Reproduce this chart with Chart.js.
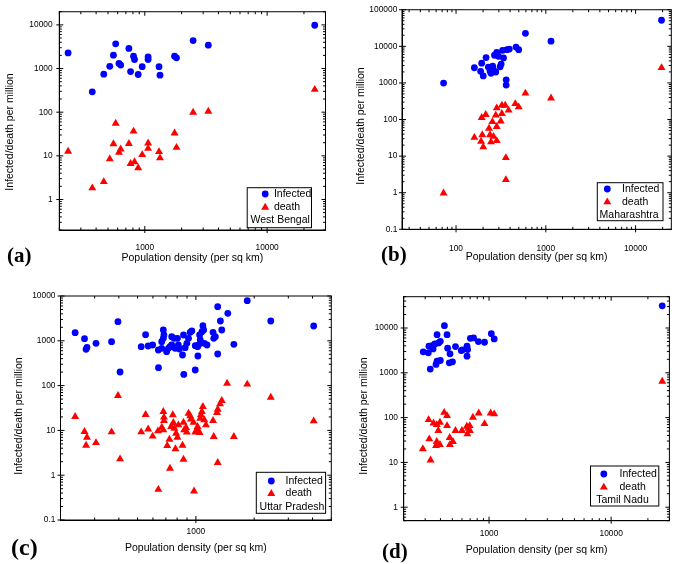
<!DOCTYPE html>
<html>
<head>
<meta charset="utf-8">
<title>Infected/death per million vs population density</title>
<script src="https://cdn.jsdelivr.net/npm/chart.js@4.4.1/dist/chart.umd.min.js"></script>
<style>
    body { margin: 0; background: #fff; font-family: "Liberation Sans", Arial, sans-serif; }
    #page { position: relative; width: 677px; height: 564px; overflow: hidden; }
    canvas { position: absolute; }
    .ytitle { position: absolute; font-size: 10.5px; white-space: nowrap; color: #000;
              transform: translate(-50%, -50%) rotate(-90deg); }
    .plabel { position: absolute; font-family: "Liberation Serif", "Times New Roman", serif;
              font-weight: bold; font-size: 21px; line-height: 21px; color: #000; }
</style>
</head>
<body>
<div id="page">
    <canvas id="chartA" width="338" height="270" style="left:0;top:0"></canvas>
    <canvas id="chartB" width="339" height="270" style="left:338px;top:0"></canvas>
    <canvas id="chartC" width="338" height="284" style="left:0;top:280px"></canvas>
    <canvas id="chartD" width="339" height="284" style="left:338px;top:280px"></canvas>

    <div class="ytitle" style="left:9px;top:132px">Infected/death per million</div>
    <div class="ytitle" style="left:360px;top:126px">Infected/death per million</div>
    <div class="ytitle" style="left:18px;top:416px">Infected/death per million</div>
    <div class="ytitle" style="left:363px;top:416px">Infected/death per million</div>

    <div class="plabel" style="left:7px;top:245px">(a)</div>
    <div class="plabel" style="left:381px;top:244px">(b)</div>
    <div class="plabel" style="left:11px;top:535px;font-size:24px;line-height:24px">(c)</div>
    <div class="plabel" style="left:382px;top:541px">(d)</div>
</div>

<script>
// (a) West Bengal
const wbDensity = [236, 372, 462, 517, 554, 578, 615, 635, 741, 765, 809, 824, 883, 952, 1064, 1064, 1307, 1331, 1751, 1816, 2483, 3305, 24500];
const wbInfected = [2275, 293, 743, 1122, 2018, 3681, 1312, 1202, 2895, 853, 1915, 1611, 729, 1105, 1848, 1611, 1105, 706, 1915, 1757, 4375, 3437, 9800];
const wbDeath = [12.6, 1.83, 2.54, 8.45, 18.7, 55.2, 11.9, 14.2, 19.0, 6.64, 36.5, 7.24, 5.31, 10.6, 19.6, 14.7, 12.4, 8.9, 33.0, 15.5, 99, 104, 331];
const wbXTicks = [1000, 10000];
const wbYTicks = [1, 10, 100, 1000, 10000];

// (b) Maharashtra
const mhInfDensity = [72.6, 160, 193, 216, 188, 201, 229, 239, 245, 256, 261, 277, 268, 284, 297, 310, 318, 338, 330, 369, 392, 466, 499, 362, 362, 593, 1143, 19450];
const mhInfected = [989, 2600, 3475, 4930, 2075, 1556, 2710, 2118, 1833, 2884, 2254, 1990, 5700, 6860, 5360, 2770, 3265, 4830, 7760, 8090, 8430, 9530, 8090, 1213, 873, 22650, 13830, 51600];
const mhDeathDensity = [72.6, 160, 190, 201, 196, 245, 284, 239, 261, 233, 254, 284, 315, 277, 324, 193, 214, 284, 324, 353, 385, 457, 499, 359, 359, 593, 1143, 19450];
const mhDeath = [0.97, 32.2, 25.2, 17.7, 38, 24.2, 26.3, 38, 34.3, 57.4, 86.6, 63.7, 90.3, 131, 145, 113, 136, 206, 243, 243, 179, 270, 219, 8.98, 2.26, 521, 383, 2600];
const mhXTicks = [100, 1000, 10000];
const mhYTicks = [0.1, 1, 10, 100, 1000, 10000, 100000];

// (c) Uttar Pradesh
const upInfDensity = [238, 266, 274, 271, 305, 367, 396, 406, 522, 550, 567, 598, 640, 641, 666, 679, 684, 679, 666, 706, 721, 735, 750, 750, 771, 781, 803, 812, 822, 853, 863, 866, 880, 898, 916, 934, 953, 992, 1024, 992, 1020, 1045, 1032, 1074, 1087, 1096, 1105, 1141, 1053, 1226, 1236, 1260, 1296, 1296, 1338, 1360, 1461, 1570, 1841, 2435, 4056];
const upInfected = [1520, 1117, 714, 645, 878, 957, 2673, 201, 740, 1371, 766, 806, 623, 251, 957, 1742, 1347, 1135, 679, 572, 679, 740, 806, 1237, 1135, 679, 1135, 806, 656, 482, 1347, 178, 703, 878, 1135, 1545, 1655, 223, 458, 779, 740, 1347, 806, 1599, 2177, 1742, 878, 806, 1042, 1545, 1135, 1237, 5780, 508, 2767, 1742, 4100, 834, 7870, 2767, 2138];
const upDeathDensity = [238, 266, 274, 271, 305, 367, 396, 406, 522, 550, 567, 598, 640, 637, 666, 679, 684, 684, 679, 711, 730, 745, 760, 765, 775, 790, 803, 784, 812, 853, 863, 870, 890, 898, 916, 934, 942, 972, 978, 992, 1012, 1020, 1045, 1053, 1061, 1074, 1087, 1105, 1127, 1226, 1236, 1285, 1296, 1332, 1360, 1296, 1449, 863, 735, 1841, 2435, 4056, 1570];
const upDeath = [20.3, 9.4, 7.0, 4.64, 5.3, 9.2, 59.6, 2.3, 9.2, 22.4, 10.7, 7.4, 0.48, 9.7, 11.7, 26.2, 19.6, 16.5, 10.2, 4.56, 6.3, 12.1, 22.1, 14.9, 11.1, 8.6, 7.0, 3.85, 13.2, 4.64, 15.1, 10.2, 11.5, 9.06, 24.0, 21.0, 17.7, 15.1, 0.44, 9.06, 10.2, 12.1, 8.9, 18.6, 22.1, 26.2, 33.9, 17.1, 13.2, 16.5, 7.24, 24.9, 29.5, 38.8, 46.1, 1.9, 112, 2.26, 1.42, 107, 54.7, 16.2, 7.24];
const upXTicks = [1000];
const upYTicks = [0.1, 1, 10, 100, 1000, 10000];

// (d) Tamil Nadu
const tnInfDensity = [431, 375, 453, 399, 386, 360, 342, 322, 318, 289, 348, 458, 531, 479, 399, 375, 368, 330, 473, 502, 603, 660, 668, 660, 703, 747, 818, 918, 1044, 1102, 592, 26200];
const tnInfected = [11270, 7110, 7110, 5057, 4650, 4415, 4055, 3920, 2790, 2937, 3420, 3540, 3853, 2650, 1885, 1823, 1537, 1211, 1674, 1762, 3250, 3920, 3306, 2353, 5900, 6000, 4980, 4810, 7480, 5700, 3140, 31300];
const tnDeathDensity = [287, 320, 324, 332, 351, 373, 373, 368, 384, 396, 396, 429, 453, 453, 476, 478, 506, 531, 600, 657, 665, 678, 694, 697, 738, 823, 918, 1031, 1102, 26200];
const tnDeath = [20.0, 89.5, 33.3, 11.2, 75.5, 69.3, 29.1, 23.7, 51, 25.0, 78.2, 130, 110, 65.9, 35.7, 25.0, 29.1, 51, 51, 63.7, 43, 57.5, 65.9, 51, 101, 126, 73, 126, 120, 645];
const tnXTicks = [1000, 10000];
const tnYTicks = [1, 10, 100, 1000, 10000];

const BLUE = '#0000ff';
const RED = '#ff0000';
const FONT = '"Liberation Sans", Arial, sans-serif';

function pairs(xs, ys) {
    return xs.map((x, i) => ({ x: x, y: ys[i] }));
}

// ticks 1..9 in each decade, Origin style
function decadeTicks(scale) {
    const ticks = [];
    const lo = Math.floor(Math.log10(scale.min));
    const hi = Math.ceil(Math.log10(scale.max));
    for (let e = lo; e <= hi; e++) {
        for (let k = 1; k <= 9; k++) {
            const v = k * Math.pow(10, e);
            if (v >= scale.min * 0.9999 && v <= scale.max * 1.0001) {
                ticks.push({ value: v, major: k === 1 });
            }
        }
    }
    scale.ticks = ticks;
}

function tickLabel(list) {
    return function (value) {
        const hit = list.find(t => Math.abs(t - value) < t * 1e-6);
        return hit === undefined ? '' : String(hit);
    };
}

// box around the plot, with tick marks on all four sides
const framePlugin = {
    id: 'frame',
    afterDraw(chart) {
        const { ctx, chartArea: a, scales } = chart;
        ctx.save();
        ctx.strokeStyle = '#000';
        ctx.lineWidth = 1;
        ctx.strokeRect(a.left, a.top, a.right - a.left, a.bottom - a.top);
        ctx.beginPath();
        scales.x.ticks.forEach(t => {
            const x = scales.x.getPixelForValue(t.value);
            const len = t.major ? 4 : 2.5;
            ctx.moveTo(x, a.bottom + (t.major ? 3 : 0));
            ctx.lineTo(x, a.bottom - len);
            ctx.moveTo(x, a.top);
            ctx.lineTo(x, a.top + len);
        });
        scales.y.ticks.forEach(t => {
            const y = scales.y.getPixelForValue(t.value);
            const len = t.major ? 4 : 2.5;
            ctx.moveTo(a.left - (t.major ? 3 : 0), y);
            ctx.lineTo(a.left + len, y);
            ctx.moveTo(a.right, y);
            ctx.lineTo(a.right - len, y);
        });
        ctx.stroke();
        ctx.restore();
    }
};

// legend in a box at the lower right, plus the state name
const boxLegend = {
    id: 'boxLegend',
    afterDraw(chart, args, opts) {
        const { ctx, chartArea: a } = chart;
        const x0 = a.right - opts.right - opts.width;
        const y0 = a.bottom - opts.bottom - opts.height;
        ctx.save();
        ctx.fillStyle = '#fff';
        ctx.fillRect(x0, y0, opts.width, opts.height);
        ctx.strokeStyle = '#000';
        ctx.lineWidth = 1;
        ctx.strokeRect(x0, y0, opts.width, opts.height);
        ctx.font = '10.5px ' + FONT;
        ctx.textBaseline = 'middle';
        chart.data.datasets.forEach((ds, i) => {
            const y = y0 + opts.rows[i];
            ctx.fillStyle = ds.backgroundColor;
            Chart.helpers.drawPoint(ctx, {
                pointStyle: ds.pointStyle, radius: ds.pointRadius, borderWidth: 0, rotation: 0
            }, x0 + opts.markerX, y);
            ctx.fillStyle = '#000';
            ctx.fillText(ds.label, x0 + opts.textX, y);
        });
        ctx.fillStyle = '#000';
        ctx.fillText(opts.place, x0 + opts.placeX, y0 + opts.rows[2]);
        ctx.restore();
    }
};

function makePanel(id, cfg) {
    return new Chart(document.getElementById(id), {
        type: 'scatter',
        data: {
            datasets: [{
                label: 'Infected',
                data: pairs(cfg.infX, cfg.infY),
                pointStyle: 'circle',
                pointRadius: 3.4,
                pointBorderWidth: 0,
                backgroundColor: BLUE,
                borderColor: BLUE
            }, {
                label: 'death',
                data: pairs(cfg.deathX, cfg.deathY),
                pointStyle: 'triangle',
                pointRadius: 4.6,
                pointBorderWidth: 0,
                backgroundColor: RED,
                borderColor: RED
            }]
        },
        options: {
            responsive: false,
            animation: false,
            layout: { padding: { left: 0, top: cfg.padTop, right: cfg.padRight, bottom: 0 } },
            plugins: {
                legend: { display: false },
                tooltip: { enabled: false },
                boxLegend: cfg.legend
            },
            scales: {
                x: {
                    type: 'logarithmic',
                    min: cfg.xMin,
                    max: cfg.xMax,
                    afterBuildTicks: decadeTicks,
                    afterFit: s => { s.height = cfg.xHeight; },
                    grid: { drawOnChartArea: false, drawTicks: false },
                    border: { color: '#000' },
                    ticks: {
                        autoSkip: false, maxRotation: 0, padding: cfg.xPad, color: '#000',
                        font: { family: FONT, size: 8.4 },
                        callback: tickLabel(cfg.xTicks)
                    },
                    title: {
                        display: true,
                        text: 'Population density (per sq km)',
                        color: '#000',
                        font: { family: FONT, size: 10.5, lineHeight: 1.2 },
                        padding: { top: 0, bottom: cfg.titlePad }
                    }
                },
                y: {
                    type: 'logarithmic',
                    min: cfg.yMin,
                    max: cfg.yMax,
                    afterBuildTicks: decadeTicks,
                    afterFit: s => { s.width = cfg.yWidth; },
                    grid: { drawOnChartArea: false, drawTicks: false },
                    border: { color: '#000' },
                    ticks: {
                        autoSkip: false, padding: cfg.yPad, color: '#000',
                        font: { family: FONT, size: 8.4 },
                        callback: tickLabel(cfg.yTicks)
                    }
                }
            }
        },
        plugins: [framePlugin, boxLegend]
    });
}

makePanel('chartA', {
    infX: wbDensity, infY: wbInfected, deathX: wbDensity, deathY: wbDeath,
    xTicks: wbXTicks, yTicks: wbYTicks,
    xMin: 200, xMax: 30000, yMin: 0.2, yMax: 20000,
    padTop: 7.3, padRight: 8, yWidth: 59.3, xHeight: 40,
    xPad: 12.5, yPad: 6.7, titlePad: 5.4,
    legend: { place: 'West Bengal', width: 64.3, height: 40, right: 14, bottom: 2.3,
              markerX: 18, textX: 26.7, placeX: 3.3, rows: [6.3, 19.7, 32.3] }
});

makePanel('chartB', {
    infX: mhInfDensity, infY: mhInfected, deathX: mhDeathDensity, deathY: mhDeath,
    xTicks: mhXTicks, yTicks: mhYTicks,
    xMin: 25, xMax: 25000, yMin: 0.1, yMax: 100000,
    padTop: 6, padRight: 5.7, yWidth: 64, xHeight: 40.7,
    xPad: 14, yPad: 4.7, titlePad: 6.4,
    legend: { place: 'Maharashtra', width: 65.7, height: 38, right: 8.3, bottom: 8.6,
              markerX: 10, textX: 24.7, placeX: 2.3, rows: [6.3, 19.3, 32.3] }
});

makePanel('chartC', {
    infX: upInfDensity, infY: upInfected, deathX: upDeathDensity, deathY: upDeath,
    xTicks: upXTicks, yTicks: upYTicks,
    xMin: 200, xMax: 5000, yMin: 0.1, yMax: 10000,
    padTop: 16, padRight: 6.3, yWidth: 60.5, xHeight: 44,
    xPad: 6.7, yPad: 5, titlePad: 9.4,
    legend: { place: 'Uttar Pradesh', width: 69.3, height: 41, right: 5.7, bottom: 6.7,
              markerX: 15, textX: 29.3, placeX: 3.3, rows: [8.7, 21.3, 34.5] }
});

makePanel('chartD', {
    infX: tnInfDensity, infY: tnInfected, deathX: tnDeathDensity, deathY: tnDeath,
    xTicks: tnXTicks, yTicks: tnYTicks,
    xMin: 200, xMax: 30000, yMin: 0.5, yMax: 50000,
    padTop: 16.7, padRight: 0.7, yWidth: 65.7, xHeight: 43.3,
    xPad: 7.6, yPad: 5.7, titlePad: 7.7,
    legend: { place: 'Tamil Nadu', width: 68.3, height: 40, right: 10.6, bottom: 14.7,
              markerX: 13.3, textX: 29, placeX: 5.7, rows: [8, 21.3, 34] }
});
</script>
</body>
</html>
